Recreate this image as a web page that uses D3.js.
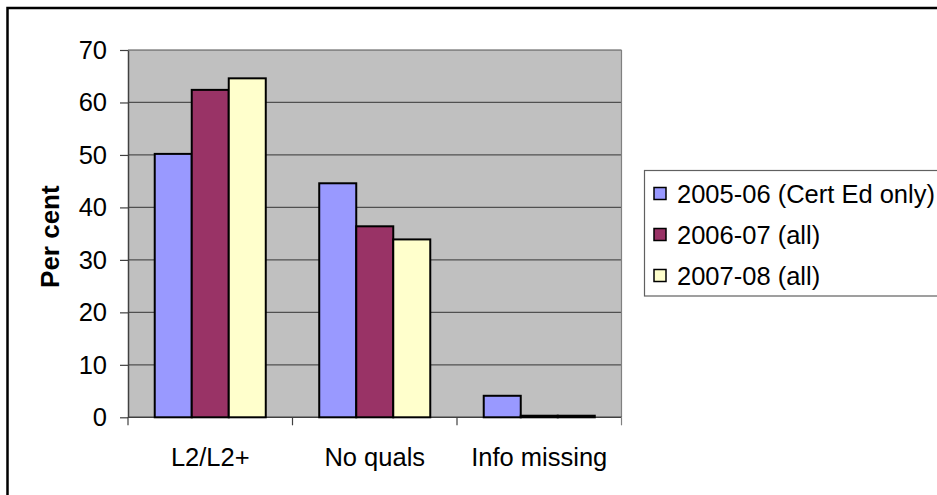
<!DOCTYPE html>
<html>
<head>
<meta charset="utf-8">
<script src="https://cdn.jsdelivr.net/npm/d3@7"></script>
<style>
  html, body { margin: 0; padding: 0; background: #fff; }
  svg { display: block; font-family: "Liberation Sans", Arial, sans-serif; }
</style>
</head>
<body>
<script>
// chart data
const categories = ["L2/L2+", "No quals", "Info missing"];
const seriesNames = ["2005-06 (Cert Ed only)", "2006-07 (all)", "2007-08 (all)"];
const values2005 = [50.2, 44.6, 4.1];
const values2006 = [62.4, 36.4, 0.3];
const values2007 = [64.6, 33.9, 0.3];
const yTicks = [0, 10, 20, 30, 40, 50, 60, 70];
const colors = ["#9999FF", "#993366", "#FFFFCC"];

const W = 937, H = 495;
const plot = { left: 128, right: 621.5, top: 50, bottom: 417.3 };
const FS = "25.5px";

const seriesValues = [values2005, values2006, values2007];
const rows = [];
categories.forEach((c, ci) => {
  seriesNames.forEach((s, si) => rows.push({ cat: c, series: s, si: si, value: seriesValues[si][ci] }));
});

const svg = d3.select("body").append("svg")
  .attr("width", W)
  .attr("height", H);

// outer chart border (runs off the right/bottom)
svg.append("rect")
  .attr("x", 7.5).attr("y", 8)
  .attr("width", 1000).attr("height", 1000)
  .attr("fill", "#fff")
  .attr("stroke", "#000")
  .attr("stroke-width", 2.5);

const y = d3.scaleLinear().domain([0, 70]).range([plot.bottom, plot.top]);
const x0 = d3.scaleBand().domain(categories).range([plot.left, plot.right])
  .paddingInner(0.325).paddingOuter(0.1625);
const x1 = d3.scaleBand().domain(seriesNames).range([0, x0.bandwidth()]);

// plot area
svg.append("rect")
  .attr("x", plot.left).attr("y", plot.top)
  .attr("width", plot.right - plot.left).attr("height", plot.bottom - plot.top)
  .attr("fill", "#C0C0C0");

// gridlines
svg.append("g")
  .selectAll("line")
  .data(yTicks.filter(d => d > 0))
  .join("line")
    .attr("x1", plot.left).attr("x2", plot.right)
    .attr("y1", d => y(d)).attr("y2", d => y(d))
    .attr("stroke", "#505050")
    .attr("stroke-width", 1.2);

// right edge of plot area
svg.append("line")
  .attr("x1", plot.right).attr("x2", plot.right)
  .attr("y1", plot.top).attr("y2", plot.bottom)
  .attr("stroke", "#808080").attr("stroke-width", 1.2);

// y axis
const yAxis = svg.append("g")
  .attr("transform", `translate(${plot.left},0)`)
  .call(d3.axisLeft(y).tickValues(yTicks).tickSize(8).tickPadding(13).tickSizeOuter(0));
yAxis.select(".domain").attr("stroke", "#404040").attr("stroke-width", 1.5);
yAxis.selectAll(".tick line").attr("stroke", "#404040").attr("stroke-width", 1.2);
yAxis.selectAll(".tick text")
  .attr("font-size", FS)
  .attr("fill", "#000")
  .attr("font-family", "Liberation Sans, Arial, sans-serif");

// x axis (ticks at category boundaries)
const xAxisG = svg.append("g");
xAxisG.append("line")
  .attr("x1", plot.left).attr("x2", plot.right)
  .attr("y1", plot.bottom).attr("y2", plot.bottom)
  .attr("stroke", "#404040").attr("stroke-width", 1.5);
const step = x0.step();
const boundaries = d3.range(categories.length + 1).map(i => plot.left + i * step);
xAxisG.selectAll("line.tk")
  .data(boundaries)
  .join("line")
    .attr("class", "tk")
    .attr("x1", d => d).attr("x2", d => d)
    .attr("y1", plot.bottom).attr("y2", plot.bottom + 8)
    .attr("stroke", (d, i) => i === categories.length ? "#808080" : "#404040")
    .attr("stroke-width", 1.2);
xAxisG.selectAll("text")
  .data(categories)
  .join("text")
    .attr("x", d => x0(d) + x0.bandwidth() / 2)
    .attr("y", 465.5)
    .attr("text-anchor", "middle")
    .attr("font-size", FS)
    .text(d => d);

// bars
svg.append("g")
  .selectAll("rect")
  .data(rows)
  .join("rect")
    .attr("x", d => x0(d.cat) + x1(d.series))
    .attr("y", d => y(d.value))
    .attr("width", x1.bandwidth())
    .attr("height", d => y(0) - y(d.value))
    .attr("fill", d => colors[d.si])
    .attr("stroke", "#000")
    .attr("stroke-width", 2);

// y axis title
svg.append("text")
  .attr("transform", `translate(59,${(plot.top + plot.bottom) / 2 + 3}) rotate(-90)`)
  .attr("text-anchor", "middle")
  .attr("font-size", "26px")
  .attr("font-weight", "bold")
  .text("Per cent");

// legend
const legend = svg.append("g");
legend.append("rect")
  .attr("x", 644.5).attr("y", 170.5)
  .attr("width", 320).attr("height", 125.5)
  .attr("fill", "#fff")
  .attr("stroke", "#606060")
  .attr("stroke-width", 1.2);
const item = legend.selectAll("g.item")
  .data(seriesNames)
  .join("g")
    .attr("class", "item")
    .attr("transform", (d, i) => `translate(0,${193.5 + i * 41})`);
item.append("rect")
  .attr("x", 654).attr("y", -6)
  .attr("width", 12).attr("height", 12)
  .attr("fill", (d, i) => colors[i])
  .attr("stroke", "#000")
  .attr("stroke-width", 1.5);
item.append("text")
  .attr("x", 677).attr("y", 9)
  .attr("font-size", FS)
  .text(d => d);
</script>
</body>
</html>
